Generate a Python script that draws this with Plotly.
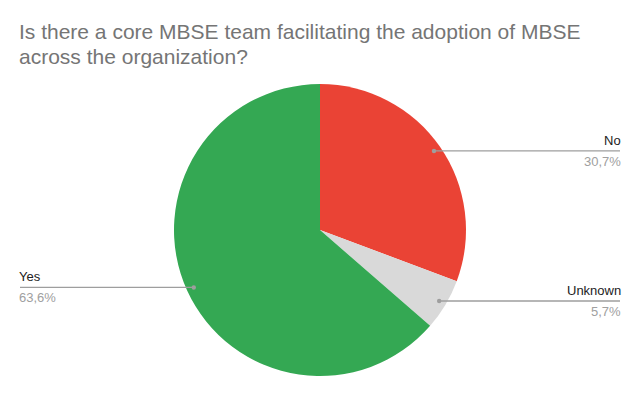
import math
import plotly.graph_objects as go

# ---- data ----
categories = ["No", "Unknown", "Yes"]
values = [30.7, 5.7, 63.6]
colors = ["#EA4335", "#D9D9D9", "#34A853"]
title_lines = ["Is there a core MBSE team facilitating the adoption of MBSE",
               "across the organization?"]

W, H = 640, 395
cx, cy, R = 320, 230, 146  # pie centre / radius in pixels

fig = go.Figure(go.Pie(
    labels=categories, values=values, sort=False, direction="clockwise",
    rotation=0, marker=dict(colors=colors, line=dict(width=0)),
    textinfo="none", hoverinfo="label+percent", showlegend=False,
    domain=dict(x=[(cx - R) / W, (cx + R) / W], y=[(H - cy - R) / H, (H - cy + R) / H]),
))

def px(x):
    return x / W

def py(y):
    return 1 - y / H

FONT = "Liberation Sans, Arial"
shapes = []
annotations = []
total = sum(values)
cum = 0.0
for lab, v in zip(categories, values):
    mid = (cum + v / 2) / total * 2 * math.pi
    cum += v
    r = 0.95 * R
    dx = cx + r * math.sin(mid)
    dy = cy - r * math.cos(mid)
    right = math.sin(mid) >= 0
    end = 620 if right else 20
    shapes.append(dict(type="line", xref="paper", yref="paper",
                       x0=px(dx), y0=py(dy), x1=px(end), y1=py(dy),
                       line=dict(color="#9E9E9E", width=1.3)))
    shapes.append(dict(type="circle", xref="paper", yref="paper",
                       x0=px(dx - 2.2), x1=px(dx + 2.2), y0=py(dy - 2.2), y1=py(dy + 2.2),
                       fillcolor="#9E9E9E", line=dict(width=0)))
    pct = f"{v / total * 100:.1f}".replace(".", ",") + "%"
    anchor = "right" if right else "left"
    shift = 3 if right else -3
    annotations.append(dict(xref="paper", yref="paper", x=px(end), y=py(dy - 1),
                            text=lab, showarrow=False, xanchor=anchor, yanchor="bottom",
                            xshift=shift,
                            font=dict(family=FONT, size=13, color="#222222")))
    annotations.append(dict(xref="paper", yref="paper", x=px(end), y=py(dy + 1),
                            text=pct, showarrow=False, xanchor=anchor, yanchor="top",
                            xshift=shift,
                            font=dict(family=FONT, size=13, color="#A0A0A0")))

for i, line in enumerate(title_lines):
    annotations.append(dict(xref="paper", yref="paper", x=px(17), y=py(32 + 24.7 * i),
                            text=line, showarrow=False, xanchor="left", yanchor="middle",
                            align="left",
                            font=dict(family=FONT, size=21, color="#757575")))

fig.update_layout(width=W, height=H, margin=dict(l=0, r=0, t=0, b=0),
                  paper_bgcolor="white", plot_bgcolor="white",
                  shapes=shapes, annotations=annotations)

fig.write_html("out.html")
